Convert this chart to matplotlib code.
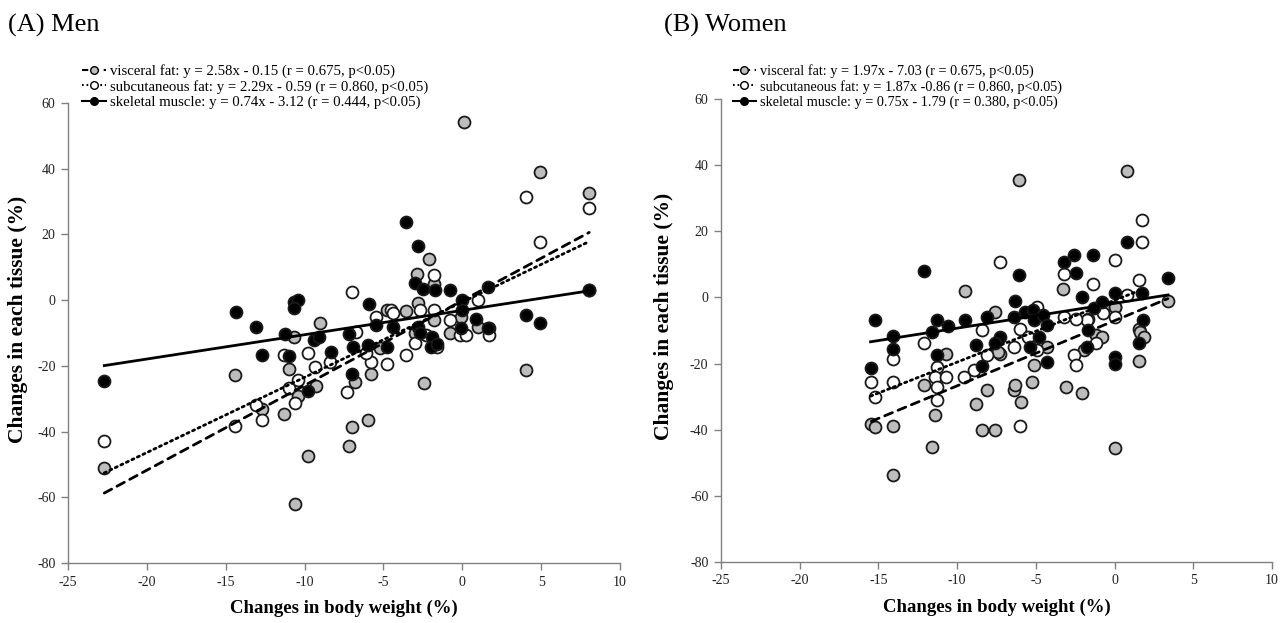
import numpy as np
import matplotlib
matplotlib.use("Agg")
import matplotlib.pyplot as plt
from matplotlib.lines import Line2D

plt.rcParams['font.family'] = ['Liberation Serif', 'DejaVu Serif']
plt.rcParams['axes.unicode_minus'] = False

# ---- data: (A) men ----
men_vis_x = [0.1, 4.9, 8.05, -2.9, -2.1, -3.6, -2.8, -4.8, -0.8, 1.0, 1.7, -9.0, -10.7, -11.0, -14.4,
             -5.8, 4.05, 8.05, -22.7, -10.6, -9.8, -7.2, -7.0, -6.0, -11.3, -2.4, -9.3, -6.8, -10.4,
             -5.2, -1.8, -0.1, -12.7, -3.0, -1.8]
men_vis_y = [54.2, 39.0, 32.6, 8.1, 12.4, -3.2, -0.8, -3.0, -10.1, -8.1, -8.6, -7.1, -11.1, -21.1, -22.7,
             -22.6, -21.3, 3.0, -51.2, -61.9, -47.5, -44.5, -38.6, -36.5, -34.6, -25.2, -26.0, -25.0, -29.2,
             -14.7, -6.0, -5.0, -33.0, -10.0, 5.0]
men_sub_x = [-22.7, -14.4, -13.1, -12.7, -10.6, -11.0, -10.4, -7.3, -9.8, -9.35, -8.4, -11.3, -5.8, -4.8,
             -3.6, -6.75, -7.0, -4.5, -2.7, -1.8, -1.8, 1.0, -0.15, 0.25, 4.9, 4.05, 8.05, -3.0, -1.6,
             -0.8, 1.7, -4.4, -5.5, -2.3, -6.1]
men_sub_y = [-42.8, -38.3, -31.8, -36.5, -31.3, -26.7, -24.2, -28.1, -16.0, -20.2, -18.7, -16.7, -18.7, -19.4,
             -16.7, -9.6, 2.5, -3.0, -3.0, 7.6, -3.0, 0.0, -10.6, -10.6, 17.7, 31.4, 28.1, -13.0, -14.2,
             -6.0, -10.6, -4.0, -5.0, -10.6, -16.1]
men_mus_x = [-22.7, -14.35, -13.1, -12.7, -11.25, -11.0, -10.66, -10.4, -10.66, -9.4, -9.1, -9.8, -8.3,
             -7.2, -7.0, -6.9, -5.9, -5.5, -6.0, -4.8, -4.4, -3.57, -2.8, -3.0, -2.5, -1.7, -0.8, 0.0,
             0.0, 1.6, 1.6, 0.9, -2.8, -2.7, -1.9, -2.0, -1.6, -0.1, 4.05, 4.9, 8.05]
men_mus_y = [-24.5, -3.7, -8.3, -16.7, -10.3, -16.9, -0.5, 0.0, -2.5, -12.2, -11.1, -27.7, -15.7,
             -10.3, -22.6, -14.4, -1.2, -7.6, -13.8, -14.2, -8.1, 23.8, 16.4, 5.1, 3.5, 3.0, 3.0, 0.0,
             -3.0, 4.0, -8.6, -5.6, -8.1, -10.1, -11.1, -14.2, -13.2, -8.5, -4.6, -7.1, 3.0]

# ---- data: (B) women ----
wom_vis_x = [-6.05, 0.82, -9.47, -3.25, -7.6, 3.39, 0.03, 1.55, 1.74, -10.7, -5.1, -4.3, -1.15, -0.8, 1.55,
             -7.3, -15.45, -15.24, -14.1, -14.1, -11.6, -11.4, -12.1, -8.8, -8.4, -7.6, -8.1, -6.4, -6.3,
             -5.95, -5.27, -3.1, -2.1, -1.95, 0.04, 1.6, 1.9, -7.4, -1.7, 0.0]
wom_vis_y = [35.5, 38.3, 2.0, 2.4, -4.3, -1.0, -2.8, -9.4, -11.9, -17.0, -20.5, -15.0, -11.4, -11.9, -19.2,
             -17.0, -38.3, -39.3, -38.8, -53.6, -45.1, -35.6, -26.5, -32.2, -40.1, -40.1, -28.0, -28.0, -26.5,
             -31.5, -25.5, -27.2, -29.0, -16.0, -45.6, -10.5, -12.0, -16.5, -6.5, -3.0]
wom_sub_x = [-7.3, 0.04, 1.74, 1.74, 1.55, -1.4, -3.2, 0.77, -4.9, -3.2, -1.75, -2.45, -0.75, 0.0, -8.4,
             -12.1, -14.1, -6.0, -6.4, -4.95, -2.6, -2.45, -1.15, -8.1, -11.25, -8.9, -15.5, -15.24, -14.1,
             -11.4, -10.7, -11.3, -11.25, -9.55, -6.0, -5.5]
wom_sub_y = [10.8, 11.3, 23.4, 16.8, 5.2, 4.0, 7.0, 0.7, -2.8, -6.0, -6.9, -6.4, -4.8, -6.0, -9.7,
             -13.9, -18.5, -9.4, -15.0, -16.0, -17.5, -20.5, -13.9, -17.5, -21.0, -22.0, -25.5, -30.2, -25.5,
             -24.0, -24.0, -27.0, -31.0, -24.0, -39.0, -12.0]
wom_mus_x = [-15.2, -14.1, -14.1, -15.5, -12.1, -11.3, -10.6, -11.6, -11.3, -9.47, -8.1, -8.8, -8.4, -7.3,
             -7.6, -6.05, -6.3, -6.4, -5.7, -5.2, -5.1, -4.55, -4.8, -5.35, -4.3, -4.3, -3.2, -2.6, -2.45,
             -1.4, -2.05, -1.3, -0.8, -1.7, -1.75, 0.04, 0.04, 0.04, 0.82, 1.74, 1.8, 1.55, 3.4]
wom_mus_y = [-6.7, -11.7, -15.7, -21.2, 8.0, -6.9, -8.7, -10.4, -17.5, -6.7, -6.0, -14.4, -20.8, -11.9,
             -13.9, 6.8, -1.0, -6.0, -4.3, -3.8, -6.9, -5.3, -11.9, -15.0, -8.4, -19.5, 10.8, 12.8, 7.3,
             12.8, 0.2, -3.3, -1.3, -9.9, -15.0, 1.2, -18.0, -20.0, 16.9, 1.2, -6.7, -13.9, 5.8]

# regression lines (slope, intercept) and legend labels
men_fit = [(2.58, -0.15), (2.29, -0.59), (0.74, -3.12)]
wom_fit = [(1.97, -7.03), (1.87, -0.86), (0.75, -1.79)]
men_labels = ["visceral fat: y = 2.58x - 0.15 (r = 0.675, p<0.05)",
              "subcutaneous fat: y = 2.29x - 0.59 (r = 0.860, p<0.05)",
              "skeletal muscle: y = 0.74x - 3.12 (r = 0.444, p<0.05)"]
wom_labels = ["visceral fat: y = 1.97x - 7.03 (r = 0.675, p<0.05)",
              "subcutaneous fat: y = 1.87x -0.86 (r = 0.860, p<0.05)",
              "skeletal muscle: y = 0.75x - 1.79 (r = 0.380, p<0.05)"]

faces = ['#bdbdbd', 'white', 'black']
styles = [(0, (3, 2.2)), (0, (0.8, 1.4)), '-']

W, H = 1281, 623
fig = plt.figure(figsize=(W / 100, H / 100), dpi=100)


def make_panel(rect, series, fits, labels, title, title_x, leg_x, ylab_x, leg_fs):
    ax = fig.add_axes(rect)
    for (x, y), fc in zip(series, faces):
        ax.plot(x, y, 'o', ms=8.6, mfc=fc, mec='#1a1a1a', mew=1.3, ls='none', zorder=3)
    for (x, y), (m, b), st in zip(series, fits, styles):
        xs = np.array([min(x), max(x)])
        ax.plot(xs, m * xs + b, color='black', lw=2.0, ls=st, zorder=4, dash_capstyle='round')
    ax.set_xlim(-25, 10)
    ax.set_ylim(-80, 60)
    ax.set_xticks(np.arange(-25, 11, 5))
    ax.set_yticks(np.arange(-80, 61, 20))
    for s in ['top', 'right']:
        ax.spines[s].set_visible(False)
    for s in ['left', 'bottom']:
        ax.spines[s].set_color('#808080')
        ax.spines[s].set_linewidth(1.0)
    ax.tick_params(direction='out', length=5, width=1, color='#808080', labelsize=10,
                   labelcolor='#222222', pad=4)
    ax.set_xlabel("Changes in body weight (%)", fontsize=13.5, fontweight='bold', labelpad=8)
    ax.set_ylabel("Changes in each tissue (%)", fontsize=15.5, fontweight='bold')
    # anchor is the right edge of the rotated label
    ax.yaxis.set_label_coords((ylab_x - rect[0] * W) / (rect[2] * W), 0.53)
    handles = [Line2D([], [], color='black', lw=1.5, ls=st, marker='o', ms=5.5, mfc=fc, mec='black', mew=1)
               for fc, st in zip(faces, styles)]
    ax.legend(handles, labels, loc='upper left', bbox_to_anchor=(leg_x / W, 1 - 64 / H),
              bbox_transform=fig.transFigure, frameon=False, fontsize=leg_fs, handlelength=1.6,
              handletextpad=0.3, labelspacing=0.12, borderaxespad=0, borderpad=0)
    fig.text(title_x / W, 1 - 25 / H, title, fontsize=19, va='center', ha='left')
    return ax


make_panel([68 / W, 1 - 563 / H, 552 / W, 460 / H],
           [(men_vis_x, men_vis_y), (men_sub_x, men_sub_y), (men_mus_x, men_mus_y)],
           men_fit, men_labels, "(A) Men", 8, 82, 28, 10.6)
make_panel([721 / W, 1 - 562 / H, 551 / W, 463 / H],
           [(wom_vis_x, wom_vis_y), (wom_sub_x, wom_sub_y), (wom_mus_x, wom_mus_y)],
           wom_fit, wom_labels, "(B) Women", 664, 733, 674, 10.3)

fig.savefig("out.png", dpi=100)
